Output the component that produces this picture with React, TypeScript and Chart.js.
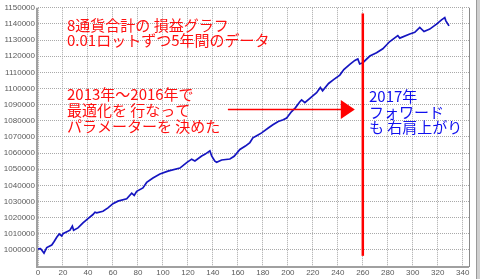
import React, { useEffect, useRef } from "react";
import { Chart, registerables } from "chart.js";

Chart.register(...registerables);

// ---- data ----
const tradeIndex = [
  0, 2, 4.8, 7, 11, 12.8, 15, 17, 19, 20, 25.6, 27.5, 28.5, 32, 36, 40, 44, 45.6, 47, 52, 56, 60, 64,
  71, 75, 77, 79, 84, 87, 92, 97.6, 104, 113.6, 119, 123, 125.6, 131, 133.6, 137.6, 139, 141.6, 143,
  147, 153.6, 157, 161.6, 166, 169.6, 172, 175.4, 179, 184.3, 188, 192.3, 196.3, 199, 203, 206,
  209.6, 211, 213.6, 217.6, 223, 226, 227.8, 232.6, 236.6, 241.6, 244.8, 249.6, 253.6, 256, 257.5,
  260, 265.6, 271, 276, 281.6, 288, 289.6, 297.6, 301.6, 305.6, 309, 313.6, 319, 323, 325.6, 326.5,
  329,
];
const equity = [
  1000600, 1000800, 998000, 1001400, 1003000, 1005000, 1007800, 1009800, 1008600, 1010000, 1012200,
  1014700, 1012200, 1013600, 1016700, 1019400, 1021900, 1023300, 1022900, 1023900, 1026000, 1028600,
  1030200, 1031700, 1035100, 1033700, 1036300, 1038400, 1041800, 1044500, 1047000, 1048800, 1050700,
  1054100, 1056200, 1055100, 1058200, 1059200, 1061400, 1058200, 1055000, 1054300, 1055700, 1056300,
  1058000, 1062200, 1064300, 1066500, 1069400, 1070900, 1072500, 1075500, 1077500, 1079600, 1080600,
  1081700, 1085700, 1088000, 1091800, 1092900, 1091200, 1093900, 1097400, 1100600, 1098600, 1103100,
  1105500, 1108300, 1111700, 1115000, 1117400, 1118300, 1115200, 1116000, 1120100, 1122100, 1124600,
  1129100, 1132800, 1131200, 1133800, 1134800, 1137900, 1135300, 1136800, 1139900, 1142500, 1143900,
  1141900, 1138800,
];

const xMin = 0;
const xMax = 345;
const xStep = 20;
const yMin = 990000;
const yMax = 1150000;
const yStep = 10000;
const yFirstLabel = 1000000;

// annotation values (in data units)
const forwardStart = 260;
const forwardLineRange = [996300, 1146500];
const arrowFrom = 152;
const arrowTo = 253.6;
const arrowLevel = 1087000;

const noteTop = ["8通貨合計の 損益グラフ", "0.01ロットずつ5年間のデータ"];
const noteMiddle = ["2013年～2016年で", "最適化を 行なって", "パラメーターを 決めた"];
const noteForward = ["2017年", "フォワード", "も 右肩上がり"];

const JP_FONT = '"Noto Sans CJK JP", "Noto Sans", sans-serif';

const decorPlugin = {
  id: "decor",
  beforeDatasetsDraw(chart: any) {
    const { ctx, chartArea: a } = chart;
    ctx.save();
    // frame
    ctx.strokeStyle = "#a0a0a0";
    ctx.lineWidth = 2;
    ctx.beginPath();
    ctx.moveTo(a.left - 1, a.top);
    ctx.lineTo(a.left - 1, a.bottom + 1);
    ctx.lineTo(a.right, a.bottom + 1);
    ctx.stroke();
    ctx.strokeStyle = "#8a8a8a";
    ctx.lineWidth = 1;
    ctx.beginPath();
    ctx.moveTo(a.right + 0.5, a.top);
    ctx.lineTo(a.right + 0.5, a.bottom + 1);
    ctx.stroke();
    // right window strip
    ctx.fillStyle = "#cfcfcf";
    ctx.fillRect(chart.width - 4, 0, 4, chart.height);
    ctx.fillStyle = "#9a9a9a";
    ctx.fillRect(chart.width - 4, 0, 1, chart.height);
    ctx.restore();
  },
  afterDatasetsDraw(chart: any) {
    const { ctx } = chart;
    const xs = chart.scales.x;
    const ys = chart.scales.y;
    ctx.save();
    // forward start vertical line
    const vx = xs.getPixelForValue(forwardStart);
    ctx.strokeStyle = "#ff0000";
    ctx.lineWidth = 2.5;
    ctx.beginPath();
    ctx.moveTo(vx, ys.getPixelForValue(forwardLineRange[0]));
    ctx.lineTo(vx, ys.getPixelForValue(forwardLineRange[1]));
    ctx.stroke();
    // arrow
    const ay = ys.getPixelForValue(arrowLevel);
    const ax0 = xs.getPixelForValue(arrowFrom);
    const ax1 = xs.getPixelForValue(arrowTo);
    ctx.lineWidth = 1.5;
    ctx.beginPath();
    ctx.moveTo(ax0, ay);
    ctx.lineTo(ax1 - 12, ay);
    ctx.stroke();
    ctx.fillStyle = "#ff0000";
    ctx.beginPath();
    ctx.moveTo(ax1, ay);
    ctx.lineTo(ax1 - 14, ay - 9.5);
    ctx.lineTo(ax1 - 14, ay + 9.5);
    ctx.closePath();
    ctx.fill();
    // texts
    ctx.font = `15px ${JP_FONT}`;
    ctx.textAlign = "left";
    ctx.textBaseline = "middle";
    ctx.fillStyle = "#ff1010";
    noteTop.forEach((t, i) => ctx.fillText(t, 67, 25 + i * 15.5));
    noteMiddle.forEach((t, i) => ctx.fillText(t, 67, 94 + i * 16.3));
    ctx.fillStyle = "#1010ee";
    noteForward.forEach((t, i) => ctx.fillText(t, 369, 96.5 + i * 15.3));
    ctx.restore();
  },
};

export default function App() {
  const ref = useRef<HTMLCanvasElement>(null);
  useEffect(() => {
    document.body.style.margin = "0";
    const canvas = ref.current!;
    const points = tradeIndex.map((x, i) => ({ x, y: equity[i] }));
    const tickFont = { family: '"Liberation Sans", Arial, sans-serif', size: 8 };
    const chart = new Chart(canvas, {
      type: "line",
      data: {
        datasets: [
          {
            data: points,
            borderColor: "#1515c0",
            borderWidth: 1.7,
            pointRadius: 0,
            tension: 0,
            fill: false,
          },
        ],
      },
      options: {
        responsive: false,
        animation: false,
        events: [],
        layout: { padding: { top: 5, right: 11, left: 0, bottom: 0 } },
        plugins: { legend: { display: false }, tooltip: { enabled: false } },
        scales: {
          x: {
            type: "linear",
            min: xMin,
            max: xMax,
            grid: { color: "#a9a9a9", drawTicks: false, lineWidth: 1 },
            border: { display: false, dash: [1, 1] },
            ticks: {
              stepSize: xStep,
              includeBounds: false,
              autoSkip: false,
              maxRotation: 0,
              padding: 2,
              font: tickFont,
              color: "#5a5a5a",
            },
            afterFit: (s: any) => {
              s.height = 13;
            },
          },
          y: {
            type: "linear",
            min: yMin,
            max: yMax,
            grid: { color: "#a9a9a9", drawTicks: false, lineWidth: 1 },
            border: { display: false, dash: [1, 1] },
            ticks: {
              stepSize: yStep,
              autoSkip: false,
              padding: 3,
              font: tickFont,
              color: "#5a5a5a",
              callback: (v: any) => (Number(v) < yFirstLabel ? "" : String(v)),
            },
            afterFit: (s: any) => {
              s.width = 38;
            },
          },
        },
      },
      plugins: [decorPlugin],
    } as any);
    return () => chart.destroy();
  }, []);
  return <canvas ref={ref} width={480} height={279} style={{ display: "block" }} />;
}
